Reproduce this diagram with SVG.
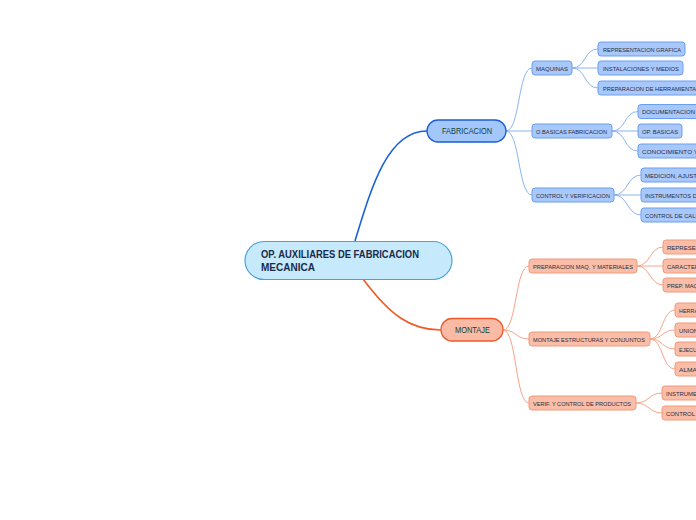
<svg xmlns="http://www.w3.org/2000/svg" width="696" height="520" viewBox="0 0 696 520">
<style>
text{font-family:"Liberation Sans",Arial,sans-serif;}
.root rect{fill:#c6e9fb;stroke:#46a3dc;stroke-width:1.2;}
.root text{font-size:10px;font-weight:bold;fill:#1b2a4a;}
.fab1 rect{fill:#a3c6fb;stroke:#1a5fd2;stroke-width:1.3;}
.mon1 rect{fill:#f9bba6;stroke:#f05a28;stroke-width:1.3;}
.l1 text{font-size:8.5px;fill:#133f30;text-anchor:middle;}
.fab rect{fill:#a8c8fb;stroke:#6a9eee;stroke-width:1;}
.mon rect{fill:#f9bda8;stroke:#f39a7b;stroke-width:1;}
.s text{font-size:5.8px;fill:#2b2d3d;}
.cf{fill:none;stroke:#8ab4f5;stroke-width:1;}
.cm{fill:none;stroke:#f7a487;stroke-width:1;}
.mf{fill:none;stroke:#1a62d6;stroke-width:1.6;}
.mm{fill:none;stroke:#f05a28;stroke-width:1.6;}
</style>
<g id="connectors">
<path class="mf" d="M355,241 C372,185 388,131 427,131"/>
<path class="mm" d="M363,279 C390,315 410,330 441,330"/>
<path class="cf" d="M506,131 C520,131 518,68 532,68"/>
<path class="cf" d="M506,131 L532,131"/>
<path class="cf" d="M506,131 C520,131 518,195 532,195"/>
<path class="cf" d="M572,68 C586,68 584,49 598,49"/>
<path class="cf" d="M572,68 L598,68"/>
<path class="cf" d="M572,68 C586,68 584,88 598,88"/>
<path class="cf" d="M612,131 C626,131 624,111.5 638,111.5"/>
<path class="cf" d="M612,131 L638,131"/>
<path class="cf" d="M612,131 C626,131 624,151 638,151"/>
<path class="cf" d="M614,195 C628,195 627,175 641,175"/>
<path class="cf" d="M614,195 L641,195"/>
<path class="cf" d="M614,195 C628,195 627,215 641,215"/>
<path class="cm" d="M503,330 C517,330 515,266 529,266"/>
<path class="cm" d="M503,330 C517,330 515,339 529,339"/>
<path class="cm" d="M503,330 C517,330 515,403 529,403"/>
<path class="cm" d="M637,266 C650,266 650,247 663,247"/>
<path class="cm" d="M637,266 L663,266"/>
<path class="cm" d="M637,266 C650,266 650,285 663,285"/>
<path class="cm" d="M650,339 C663,339 662,310 675,310"/>
<path class="cm" d="M650,339 C663,339 662,330 675,330"/>
<path class="cm" d="M650,339 C663,339 662,349 675,349"/>
<path class="cm" d="M650,339 C663,339 662,369 675,369"/>
<path class="cm" d="M636,403 C649,403 649,393 662,393"/>
<path class="cm" d="M636,403 C649,403 649,413 662,413"/>
</g>
<g id="root" class="root">
<rect x="245" y="241.5" width="207" height="38" rx="19"/>
<text x="261" y="258" textLength="158" lengthAdjust="spacingAndGlyphs">OP. AUXILIARES DE FABRICACION</text>
<text x="261" y="271">MECANICA</text>
</g>
<g id="fabricacion" class="l1 fab1">
<rect x="427" y="120" width="79" height="22" rx="11"/>
<text x="467" y="134" textLength="50" lengthAdjust="spacingAndGlyphs">FABRICACION</text>
</g>
<g id="montaje" class="l1 mon1">
<rect x="441" y="318.5" width="62" height="22.5" rx="11"/>
<text x="472.5" y="333" textLength="35" lengthAdjust="spacingAndGlyphs">MONTAJE</text>
</g>
<g id="maquinas" class="s fab"><rect x="532" y="61" width="40" height="14" rx="3"/><text x="536" y="70.5" textLength="32" lengthAdjust="spacingAndGlyphs">MAQUINAS</text></g>
<g id="obasicas" class="s fab"><rect x="532" y="124" width="80" height="14" rx="3"/><text x="536" y="133.5" textLength="71" lengthAdjust="spacingAndGlyphs">O.BASICAS FABRICACION</text></g>
<g id="control" class="s fab"><rect x="532" y="188" width="82" height="14" rx="3"/><text x="536" y="197.5" textLength="74" lengthAdjust="spacingAndGlyphs">CONTROL Y VERIFICACION</text></g>
<g id="repgraf" class="s fab"><rect x="598" y="42" width="87" height="14" rx="3"/><text x="603" y="51.5" textLength="78" lengthAdjust="spacingAndGlyphs">REPRESENTACION GRAFICA</text></g>
<g id="instal" class="s fab"><rect x="598" y="61" width="85" height="14" rx="3"/><text x="603" y="70.5" textLength="76" lengthAdjust="spacingAndGlyphs">INSTALACIONES Y MEDIOS</text></g>
<g id="prepherr" class="s fab"><rect x="598" y="81" width="110" height="14" rx="3"/><text x="603" y="90.5" textLength="93" lengthAdjust="spacingAndGlyphs">PREPARACION DE HERRAMIENTA</text></g>
<g id="docum" class="s fab"><rect x="638" y="104.5" width="70" height="14" rx="3"/><text x="642" y="114" textLength="53" lengthAdjust="spacingAndGlyphs">DOCUMENTACION</text></g>
<g id="opbasicas" class="s fab"><rect x="638" y="124" width="44" height="14" rx="3"/><text x="642" y="133.5" textLength="36" lengthAdjust="spacingAndGlyphs">OP. BASICAS</text></g>
<g id="conoc" class="s fab"><rect x="638" y="144" width="70" height="14" rx="3"/><text x="642" y="153.5" textLength="56" lengthAdjust="spacingAndGlyphs">CONOCIMIENTO Y</text></g>
<g id="medicion" class="s fab"><rect x="641" y="168" width="70" height="14" rx="3"/><text x="645" y="177.5" textLength="52" lengthAdjust="spacingAndGlyphs">MEDICION, AJUST</text></g>
<g id="instrum" class="s fab"><rect x="641" y="188" width="70" height="14" rx="3"/><text x="645" y="197.5" textLength="52" lengthAdjust="spacingAndGlyphs">INSTRUMENTOS D</text></g>
<g id="calidad" class="s fab"><rect x="641" y="208" width="70" height="14" rx="3"/><text x="645" y="217.5" textLength="52" lengthAdjust="spacingAndGlyphs">CONTROL DE CALI</text></g>
<g id="prepmaq" class="s mon"><rect x="529" y="259" width="108" height="14" rx="3"/><text x="533" y="268.5" textLength="100" lengthAdjust="spacingAndGlyphs">PREPARACION MAQ. Y MATERIALES</text></g>
<g id="montest" class="s mon"><rect x="529" y="332" width="121" height="14" rx="3"/><text x="533" y="341.5" textLength="112" lengthAdjust="spacingAndGlyphs">MONTAJE ESTRUCTURAS Y CONJUNTOS</text></g>
<g id="verif" class="s mon"><rect x="529" y="396" width="107" height="14" rx="3"/><text x="533" y="405.5" textLength="98" lengthAdjust="spacingAndGlyphs">VERIF. Y CONTROL DE PRODUCTOS</text></g>
<g id="represen" class="s mon"><rect x="663" y="240" width="50" height="14" rx="3"/><text x="667" y="249.5" textLength="33" lengthAdjust="spacingAndGlyphs">REPRESEN</text></g>
<g id="caracter" class="s mon"><rect x="663" y="259" width="50" height="14" rx="3"/><text x="667" y="268.5" textLength="32" lengthAdjust="spacingAndGlyphs">CARACTER</text></g>
<g id="prepmaq2" class="s mon"><rect x="663" y="278" width="50" height="14" rx="3"/><text x="667" y="287.5" textLength="31" lengthAdjust="spacingAndGlyphs">PREP. MAQ</text></g>
<g id="herra" class="s mon"><rect x="675" y="303" width="40" height="14" rx="3"/><text x="679" y="312.5" textLength="19" lengthAdjust="spacingAndGlyphs">HERRA</text></g>
<g id="union" class="s mon"><rect x="675" y="323" width="40" height="14" rx="3"/><text x="679" y="332.5" textLength="19" lengthAdjust="spacingAndGlyphs">UNION</text></g>
<g id="ejecu" class="s mon"><rect x="675" y="342" width="40" height="14" rx="3"/><text x="679" y="351.5" textLength="18" lengthAdjust="spacingAndGlyphs">EJECU</text></g>
<g id="alma" class="s mon"><rect x="675" y="362" width="40" height="14" rx="3"/><text x="679" y="371.5" textLength="18" lengthAdjust="spacingAndGlyphs">ALMA</text></g>
<g id="instrume" class="s mon"><rect x="662" y="386" width="50" height="14" rx="3"/><text x="666" y="395.5" textLength="31" lengthAdjust="spacingAndGlyphs">INSTRUME</text></g>
<g id="controli" class="s mon"><rect x="662" y="406" width="50" height="14" rx="3"/><text x="666" y="415.5" textLength="32" lengthAdjust="spacingAndGlyphs">CONTROL I</text></g>
</svg>
